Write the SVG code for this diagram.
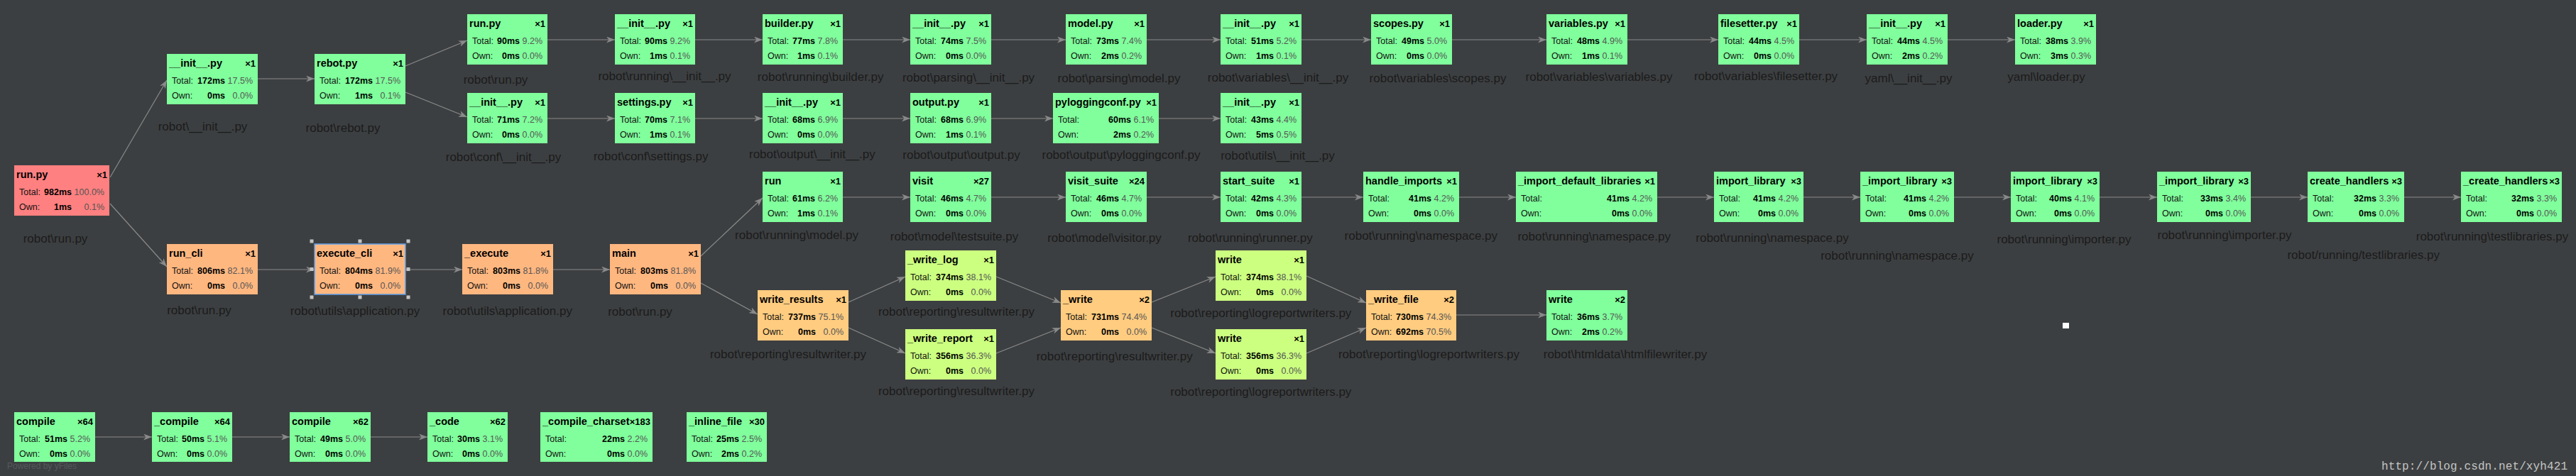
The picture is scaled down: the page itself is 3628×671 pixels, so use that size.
<svg xmlns="http://www.w3.org/2000/svg" width="3628" height="671" viewBox="0 0 3628 671">
<defs>
<style>
text{font-family:"Liberation Sans",Arial,sans-serif}
.g{fill:#80ff9c}.r{fill:#ff8080}.o{fill:#ffb780}.lo{fill:#ffcc80}.y{fill:#ccff80}
.t{font-size:14.5px;font-weight:bold;fill:#000}
.c{font-size:13px;font-weight:bold;fill:#000;text-anchor:end}
.k{font-size:12.5px;fill:#111}
.v{font-size:12.5px;font-weight:bold;fill:#000;text-anchor:end}
.p{font-size:12.5px;fill:#555;text-anchor:end}
.l{font-size:17px;fill:#1b1b1b;text-anchor:middle}
#edges line{stroke:#8a8a8a;stroke-width:1.2;marker-end:url(#ah)}
.h{fill:#c4c4c4}
.sel{fill:#ffb780;stroke:#5f9ee6;stroke-width:1.5}
.wm{font-family:"Liberation Mono","Courier New",monospace;font-size:16px;fill:#c4c4c4}
</style>
<marker id="ah" viewBox="0 0 12 9" refX="12" refY="4.5" markerWidth="12" markerHeight="9" orient="auto" markerUnits="userSpaceOnUse"><path d="M0,0 L12,4.5 L0,9 L3.5,4.5 Z" fill="#8a8a8a"/></marker>
</defs>
<rect width="3628" height="671" fill="#3c3f41"/>

<g id="edges">
<line x1="363" y1="111" x2="443" y2="111"/>
<line x1="771" y1="56" x2="866" y2="56"/>
<line x1="979" y1="56" x2="1074" y2="56"/>
<line x1="1187" y1="56" x2="1282" y2="56"/>
<line x1="1396" y1="56" x2="1501" y2="56"/>
<line x1="1615" y1="56" x2="1719" y2="56"/>
<line x1="1833" y1="56" x2="1931" y2="56"/>
<line x1="2045" y1="56" x2="2178" y2="56"/>
<line x1="2292" y1="56" x2="2420" y2="56"/>
<line x1="2534" y1="56" x2="2629" y2="56"/>
<line x1="2743" y1="56" x2="2838" y2="56"/>
<line x1="771" y1="167" x2="866" y2="167"/>
<line x1="979" y1="167" x2="1074" y2="167"/>
<line x1="1187" y1="167" x2="1282" y2="167"/>
<line x1="1396" y1="167" x2="1483" y2="167"/>
<line x1="1632" y1="167" x2="1719" y2="167"/>
<line x1="1187" y1="278" x2="1282" y2="278"/>
<line x1="1396" y1="278" x2="1501" y2="278"/>
<line x1="1615" y1="278" x2="1719" y2="278"/>
<line x1="1833" y1="278" x2="1920" y2="278"/>
<line x1="2055" y1="278" x2="2135" y2="278"/>
<line x1="2334" y1="278" x2="2414" y2="278"/>
<line x1="2540" y1="278" x2="2620" y2="278"/>
<line x1="2752" y1="278" x2="2832" y2="278"/>
<line x1="2957" y1="278" x2="3038" y2="278"/>
<line x1="3170" y1="278" x2="3250" y2="278"/>
<line x1="3386" y1="278" x2="3466" y2="278"/>
<line x1="363" y1="380" x2="443" y2="380"/>
<line x1="571" y1="380" x2="651" y2="380"/>
<line x1="779" y1="380" x2="859" y2="380"/>
<line x1="2051" y1="444" x2="2178" y2="444"/>
<line x1="134" y1="616" x2="214" y2="616"/>
<line x1="327" y1="616" x2="408" y2="616"/>
<line x1="522" y1="616" x2="602" y2="616"/>
<line x1="155" y1="250" x2="235" y2="113"/>
<line x1="155" y1="287" x2="235" y2="376"/>
<line x1="571" y1="93" x2="658" y2="57"/>
<line x1="571" y1="130" x2="658" y2="165"/>
<line x1="987" y1="361" x2="1074" y2="279"/>
<line x1="987" y1="399" x2="1067" y2="443"/>
<line x1="1195" y1="426" x2="1275" y2="390"/>
<line x1="1195" y1="462" x2="1275" y2="498"/>
<line x1="1403" y1="390" x2="1494" y2="427"/>
<line x1="1403" y1="498" x2="1494" y2="462"/>
<line x1="1622" y1="426" x2="1712" y2="390"/>
<line x1="1622" y1="462" x2="1712" y2="498"/>
<line x1="1840" y1="389" x2="1924" y2="427"/>
<line x1="1840" y1="498" x2="1924" y2="462"/>
</g>

<g id="n_main_run" transform="translate(20,233)"><rect class="r" width="134" height="71"/><text class="t" x="3" y="18">run.py</text><text class="c" x="131" y="18">×1</text><text class="k" x="7" y="42">Total:</text><text class="v" x="81" y="42">982ms</text><text class="p" x="127" y="42">100.0%</text><text class="k" x="7" y="63">Own:</text><text class="v" x="81" y="63">1ms</text><text class="p" x="127" y="63">0.1%</text><text class="l" x="58" y="109">robot\run.py</text></g>

<g id="n_init_robot" transform="translate(235,76)"><rect class="g" width="128" height="71"/><text class="t" x="3" y="18">__init__.py</text><text class="c" x="125" y="18">×1</text><text class="k" x="7" y="42">Total:</text><text class="v" x="82" y="42">172ms</text><text class="p" x="121" y="42">17.5%</text><text class="k" x="7" y="63">Own:</text><text class="v" x="82" y="63">0ms</text><text class="p" x="121" y="63">0.0%</text><text class="l" x="50.5" y="108">robot\__init__.py</text></g>

<g id="n_rebot" transform="translate(443,76)"><rect class="g" width="128" height="71"/><text class="t" x="3" y="18">rebot.py</text><text class="c" x="125" y="18">×1</text><text class="k" x="7" y="42">Total:</text><text class="v" x="82" y="42">172ms</text><text class="p" x="121" y="42">17.5%</text><text class="k" x="7" y="63">Own:</text><text class="v" x="82" y="63">1ms</text><text class="p" x="121" y="63">0.1%</text><text class="l" x="40" y="110">robot\rebot.py</text></g>

<g id="n_run_top" transform="translate(658,20)"><rect class="g" width="113" height="71"/><text class="t" x="3" y="18">run.py</text><text class="c" x="110" y="18">×1</text><text class="k" x="7" y="42">Total:</text><text class="v" x="74" y="42">90ms</text><text class="p" x="106" y="42">9.2%</text><text class="k" x="7" y="63">Own:</text><text class="v" x="74" y="63">0ms</text><text class="p" x="106" y="63">0.0%</text><text class="l" x="40" y="98">robot\run.py</text></g>

<g id="n_init_running" transform="translate(866,20)"><rect class="g" width="113" height="71"/><text class="t" x="3" y="18">__init__.py</text><text class="c" x="110" y="18">×1</text><text class="k" x="7" y="42">Total:</text><text class="v" x="74" y="42">90ms</text><text class="p" x="106" y="42">9.2%</text><text class="k" x="7" y="63">Own:</text><text class="v" x="74" y="63">1ms</text><text class="p" x="106" y="63">0.1%</text><text class="l" x="70" y="93">robot\running\__init__.py</text></g>

<g id="n_builder" transform="translate(1074,20)"><rect class="g" width="113" height="71"/><text class="t" x="3" y="18">builder.py</text><text class="c" x="110" y="18">×1</text><text class="k" x="7" y="42">Total:</text><text class="v" x="74" y="42">77ms</text><text class="p" x="106" y="42">7.8%</text><text class="k" x="7" y="63">Own:</text><text class="v" x="74" y="63">1ms</text><text class="p" x="106" y="63">0.1%</text><text class="l" x="81.7" y="94">robot\running\builder.py</text></g>

<g id="n_init_parsing" transform="translate(1282,20)"><rect class="g" width="114" height="71"/><text class="t" x="3" y="18">__init__.py</text><text class="c" x="111" y="18">×1</text><text class="k" x="7" y="42">Total:</text><text class="v" x="75" y="42">74ms</text><text class="p" x="107" y="42">7.5%</text><text class="k" x="7" y="63">Own:</text><text class="v" x="75" y="63">0ms</text><text class="p" x="107" y="63">0.0%</text><text class="l" x="82" y="95">robot\parsing\__init__.py</text></g>

<g id="n_model" transform="translate(1501,20)"><rect class="g" width="114" height="71"/><text class="t" x="3" y="18">model.py</text><text class="c" x="111" y="18">×1</text><text class="k" x="7" y="42">Total:</text><text class="v" x="75" y="42">73ms</text><text class="p" x="107" y="42">7.4%</text><text class="k" x="7" y="63">Own:</text><text class="v" x="75" y="63">2ms</text><text class="p" x="107" y="63">0.2%</text><text class="l" x="75" y="96">robot\parsing\model.py</text></g>

<g id="n_init_variables" transform="translate(1719,20)"><rect class="g" width="114" height="71"/><text class="t" x="3" y="18">__init__.py</text><text class="c" x="111" y="18">×1</text><text class="k" x="7" y="42">Total:</text><text class="v" x="75" y="42">51ms</text><text class="p" x="107" y="42">5.2%</text><text class="k" x="7" y="63">Own:</text><text class="v" x="75" y="63">1ms</text><text class="p" x="107" y="63">0.1%</text><text class="l" x="81" y="95">robot\variables\__init__.py</text></g>

<g id="n_scopes" transform="translate(1931,20)"><rect class="g" width="114" height="71"/><text class="t" x="3" y="18">scopes.py</text><text class="c" x="111" y="18">×1</text><text class="k" x="7" y="42">Total:</text><text class="v" x="75" y="42">49ms</text><text class="p" x="107" y="42">5.0%</text><text class="k" x="7" y="63">Own:</text><text class="v" x="75" y="63">0ms</text><text class="p" x="107" y="63">0.0%</text><text class="l" x="94" y="96">robot\variables\scopes.py</text></g>

<g id="n_variables" transform="translate(2178,20)"><rect class="g" width="114" height="71"/><text class="t" x="3" y="18">variables.py</text><text class="c" x="111" y="18">×1</text><text class="k" x="7" y="42">Total:</text><text class="v" x="75" y="42">48ms</text><text class="p" x="107" y="42">4.9%</text><text class="k" x="7" y="63">Own:</text><text class="v" x="75" y="63">1ms</text><text class="p" x="107" y="63">0.1%</text><text class="l" x="74" y="94">robot\variables\variables.py</text></g>

<g id="n_filesetter" transform="translate(2420,20)"><rect class="g" width="114" height="71"/><text class="t" x="3" y="18">filesetter.py</text><text class="c" x="111" y="18">×1</text><text class="k" x="7" y="42">Total:</text><text class="v" x="75" y="42">44ms</text><text class="p" x="107" y="42">4.5%</text><text class="k" x="7" y="63">Own:</text><text class="v" x="75" y="63">0ms</text><text class="p" x="107" y="63">0.0%</text><text class="l" x="67" y="93">robot\variables\filesetter.py</text></g>

<g id="n_init_yaml" transform="translate(2629,20)"><rect class="g" width="114" height="71"/><text class="t" x="3" y="18">__init__.py</text><text class="c" x="111" y="18">×1</text><text class="k" x="7" y="42">Total:</text><text class="v" x="75" y="42">44ms</text><text class="p" x="107" y="42">4.5%</text><text class="k" x="7" y="63">Own:</text><text class="v" x="75" y="63">2ms</text><text class="p" x="107" y="63">0.2%</text><text class="l" x="59" y="96">yaml\__init__.py</text></g>

<g id="n_loader" transform="translate(2838,20)"><rect class="g" width="114" height="71"/><text class="t" x="3" y="18">loader.py</text><text class="c" x="111" y="18">×1</text><text class="k" x="7" y="42">Total:</text><text class="v" x="75" y="42">38ms</text><text class="p" x="107" y="42">3.9%</text><text class="k" x="7" y="63">Own:</text><text class="v" x="75" y="63">3ms</text><text class="p" x="107" y="63">0.3%</text><text class="l" x="44" y="94">yaml\loader.py</text></g>

<g id="n_init_conf" transform="translate(658,131)"><rect class="g" width="113" height="71"/><text class="t" x="3" y="18">__init__.py</text><text class="c" x="110" y="18">×1</text><text class="k" x="7" y="42">Total:</text><text class="v" x="74" y="42">71ms</text><text class="p" x="106" y="42">7.2%</text><text class="k" x="7" y="63">Own:</text><text class="v" x="74" y="63">0ms</text><text class="p" x="106" y="63">0.0%</text><text class="l" x="51" y="96">robot\conf\__init__.py</text></g>

<g id="n_settings" transform="translate(866,131)"><rect class="g" width="113" height="71"/><text class="t" x="3" y="18">settings.py</text><text class="c" x="110" y="18">×1</text><text class="k" x="7" y="42">Total:</text><text class="v" x="74" y="42">70ms</text><text class="p" x="106" y="42">7.1%</text><text class="k" x="7" y="63">Own:</text><text class="v" x="74" y="63">1ms</text><text class="p" x="106" y="63">0.1%</text><text class="l" x="50.7" y="95">robot\conf\settings.py</text></g>

<g id="n_init_output" transform="translate(1074,131)"><rect class="g" width="113" height="71"/><text class="t" x="3" y="18">__init__.py</text><text class="c" x="110" y="18">×1</text><text class="k" x="7" y="42">Total:</text><text class="v" x="74" y="42">68ms</text><text class="p" x="106" y="42">6.9%</text><text class="k" x="7" y="63">Own:</text><text class="v" x="74" y="63">0ms</text><text class="p" x="106" y="63">0.0%</text><text class="l" x="69.8" y="92">robot\output\__init__.py</text></g>

<g id="n_output" transform="translate(1282,131)"><rect class="g" width="114" height="71"/><text class="t" x="3" y="18">output.py</text><text class="c" x="111" y="18">×1</text><text class="k" x="7" y="42">Total:</text><text class="v" x="75" y="42">68ms</text><text class="p" x="107" y="42">6.9%</text><text class="k" x="7" y="63">Own:</text><text class="v" x="75" y="63">1ms</text><text class="p" x="107" y="63">0.1%</text><text class="l" x="72" y="93">robot\output\output.py</text></g>

<g id="n_pyloggingconf" transform="translate(1483,131)"><rect class="g" width="149" height="71"/><text class="t" x="3" y="18">pyloggingconf.py</text><text class="c" x="146" y="18">×1</text><text class="k" x="7" y="42">Total:</text><text class="v" x="110" y="42">60ms</text><text class="p" x="142" y="42">6.1%</text><text class="k" x="7" y="63">Own:</text><text class="v" x="110" y="63">2ms</text><text class="p" x="142" y="63">0.2%</text><text class="l" x="96" y="93">robot\output\pyloggingconf.py</text></g>

<g id="n_init_utils" transform="translate(1719,131)"><rect class="g" width="114" height="71"/><text class="t" x="3" y="18">__init__.py</text><text class="c" x="111" y="18">×1</text><text class="k" x="7" y="42">Total:</text><text class="v" x="75" y="42">43ms</text><text class="p" x="107" y="42">4.4%</text><text class="k" x="7" y="63">Own:</text><text class="v" x="75" y="63">5ms</text><text class="p" x="107" y="63">0.5%</text><text class="l" x="80.5" y="94">robot\utils\__init__.py</text></g>

<g id="n_run_cli" transform="translate(235,344)"><rect class="o" width="128" height="71"/><text class="t" x="3" y="18">run_cli</text><text class="c" x="125" y="18">×1</text><text class="k" x="7" y="42">Total:</text><text class="v" x="82" y="42">806ms</text><text class="p" x="121" y="42">82.1%</text><text class="k" x="7" y="63">Own:</text><text class="v" x="82" y="63">0ms</text><text class="p" x="121" y="63">0.0%</text><text class="l" x="45.5" y="99">robot\run.py</text></g>

<g id="n_execute_cli" transform="translate(443,344)"><rect class="sel" width="128" height="71"/><text class="t" x="3" y="18">execute_cli</text><text class="c" x="125" y="18">×1</text><text class="k" x="7" y="42">Total:</text><text class="v" x="82" y="42">804ms</text><text class="p" x="121" y="42">81.9%</text><text class="k" x="7" y="63">Own:</text><text class="v" x="82" y="63">0ms</text><text class="p" x="121" y="63">0.0%</text><rect class="h" x="-6.5" y="-6.5" width="5" height="5"/><rect class="h" x="61.5" y="-6.5" width="5" height="5"/><rect class="h" x="129.5" y="-6.5" width="5" height="5"/><rect class="h" x="-6.5" y="33" width="5" height="5"/><rect class="h" x="129.5" y="33" width="5" height="5"/><rect class="h" x="-6.5" y="72.5" width="5" height="5"/><rect class="h" x="61.5" y="72.5" width="5" height="5"/><rect class="h" x="129.5" y="72.5" width="5" height="5"/><text class="l" x="57" y="100">robot\utils\application.py</text></g>

<g id="n_execute" transform="translate(651,344)"><rect class="o" width="128" height="71"/><text class="t" x="3" y="18">_execute</text><text class="c" x="125" y="18">×1</text><text class="k" x="7" y="42">Total:</text><text class="v" x="82" y="42">803ms</text><text class="p" x="121" y="42">81.8%</text><text class="k" x="7" y="63">Own:</text><text class="v" x="82" y="63">0ms</text><text class="p" x="121" y="63">0.0%</text><text class="l" x="63.7" y="100">robot\utils\application.py</text></g>

<g id="n_main" transform="translate(859,344)"><rect class="o" width="128" height="71"/><text class="t" x="3" y="18">main</text><text class="c" x="125" y="18">×1</text><text class="k" x="7" y="42">Total:</text><text class="v" x="82" y="42">803ms</text><text class="p" x="121" y="42">81.8%</text><text class="k" x="7" y="63">Own:</text><text class="v" x="82" y="63">0ms</text><text class="p" x="121" y="63">0.0%</text><text class="l" x="42.5" y="101">robot\run.py</text></g>

<g id="n_run_model" transform="translate(1074,242)"><rect class="g" width="113" height="71"/><text class="t" x="3" y="18">run</text><text class="c" x="110" y="18">×1</text><text class="k" x="7" y="42">Total:</text><text class="v" x="74" y="42">61ms</text><text class="p" x="106" y="42">6.2%</text><text class="k" x="7" y="63">Own:</text><text class="v" x="74" y="63">1ms</text><text class="p" x="106" y="63">0.1%</text><text class="l" x="48" y="95">robot\running\model.py</text></g>

<g id="n_visit" transform="translate(1282,242)"><rect class="g" width="114" height="71"/><text class="t" x="3" y="18">visit</text><text class="c" x="111" y="18">×27</text><text class="k" x="7" y="42">Total:</text><text class="v" x="75" y="42">46ms</text><text class="p" x="107" y="42">4.7%</text><text class="k" x="7" y="63">Own:</text><text class="v" x="75" y="63">0ms</text><text class="p" x="107" y="63">0.0%</text><text class="l" x="62" y="97">robot\model\testsuite.py</text></g>

<g id="n_visit_suite" transform="translate(1501,242)"><rect class="g" width="114" height="71"/><text class="t" x="3" y="18">visit_suite</text><text class="c" x="111" y="18">×24</text><text class="k" x="7" y="42">Total:</text><text class="v" x="75" y="42">46ms</text><text class="p" x="107" y="42">4.7%</text><text class="k" x="7" y="63">Own:</text><text class="v" x="75" y="63">0ms</text><text class="p" x="107" y="63">0.0%</text><text class="l" x="54.5" y="99">robot\model\visitor.py</text></g>

<g id="n_start_suite" transform="translate(1719,242)"><rect class="g" width="114" height="71"/><text class="t" x="3" y="18">start_suite</text><text class="c" x="111" y="18">×1</text><text class="k" x="7" y="42">Total:</text><text class="v" x="75" y="42">42ms</text><text class="p" x="107" y="42">4.3%</text><text class="k" x="7" y="63">Own:</text><text class="v" x="75" y="63">0ms</text><text class="p" x="107" y="63">0.0%</text><text class="l" x="41.8" y="99">robot\running\runner.py</text></g>

<g id="n_handle_imports" transform="translate(1920,242)"><rect class="g" width="135" height="71"/><text class="t" x="3" y="18">handle_imports</text><text class="c" x="132" y="18">×1</text><text class="k" x="7" y="42">Total:</text><text class="v" x="96" y="42">41ms</text><text class="p" x="128" y="42">4.2%</text><text class="k" x="7" y="63">Own:</text><text class="v" x="96" y="63">0ms</text><text class="p" x="128" y="63">0.0%</text><text class="l" x="81.3" y="96">robot\running\namespace.py</text></g>

<g id="n_import_default_libraries" transform="translate(2135,242)"><rect class="g" width="199" height="71"/><text class="t" x="3" y="18">_import_default_libraries</text><text class="c" x="196" y="18">×1</text><text class="k" x="7" y="42">Total:</text><text class="v" x="160" y="42">41ms</text><text class="p" x="192" y="42">4.2%</text><text class="k" x="7" y="63">Own:</text><text class="v" x="160" y="63">0ms</text><text class="p" x="192" y="63">0.0%</text><text class="l" x="110.2" y="97">robot\running\namespace.py</text></g>

<g id="n_import_library_1" transform="translate(2414,242)"><rect class="g" width="126" height="71"/><text class="t" x="3" y="18">import_library</text><text class="c" x="123" y="18">×3</text><text class="k" x="7" y="42">Total:</text><text class="v" x="87" y="42">41ms</text><text class="p" x="119" y="42">4.2%</text><text class="k" x="7" y="63">Own:</text><text class="v" x="87" y="63">0ms</text><text class="p" x="119" y="63">0.0%</text><text class="l" x="82" y="99">robot\running\namespace.py</text></g>

<g id="n__import_library_1" transform="translate(2620,242)"><rect class="g" width="132" height="71"/><text class="t" x="3" y="18">_import_library</text><text class="c" x="129" y="18">×3</text><text class="k" x="7" y="42">Total:</text><text class="v" x="93" y="42">41ms</text><text class="p" x="125" y="42">4.2%</text><text class="k" x="7" y="63">Own:</text><text class="v" x="93" y="63">0ms</text><text class="p" x="125" y="63">0.0%</text><text class="l" x="51.9" y="124">robot\running\namespace.py</text></g>

<g id="n_import_library_2" transform="translate(2832,242)"><rect class="g" width="125" height="71"/><text class="t" x="3" y="18">import_library</text><text class="c" x="122" y="18">×3</text><text class="k" x="7" y="42">Total:</text><text class="v" x="86" y="42">40ms</text><text class="p" x="118" y="42">4.1%</text><text class="k" x="7" y="63">Own:</text><text class="v" x="86" y="63">0ms</text><text class="p" x="118" y="63">0.0%</text><text class="l" x="75" y="101">robot\running\importer.py</text></g>

<g id="n__import_library_2" transform="translate(3038,242)"><rect class="g" width="132" height="71"/><text class="t" x="3" y="18">_import_library</text><text class="c" x="129" y="18">×3</text><text class="k" x="7" y="42">Total:</text><text class="v" x="93" y="42">33ms</text><text class="p" x="125" y="42">3.4%</text><text class="k" x="7" y="63">Own:</text><text class="v" x="93" y="63">0ms</text><text class="p" x="125" y="63">0.0%</text><text class="l" x="95" y="95">robot\running\importer.py</text></g>

<g id="n_create_handlers" transform="translate(3250,242)"><rect class="g" width="136" height="71"/><text class="t" x="3" y="18">create_handlers</text><text class="c" x="133" y="18">×3</text><text class="k" x="7" y="42">Total:</text><text class="v" x="97" y="42">32ms</text><text class="p" x="129" y="42">3.3%</text><text class="k" x="7" y="63">Own:</text><text class="v" x="97" y="63">0ms</text><text class="p" x="129" y="63">0.0%</text><text class="l" x="78.7" y="123">robot/running/testlibraries.py</text></g>

<g id="n__create_handlers" transform="translate(3466,242)"><rect class="g" width="142" height="71"/><text class="t" x="3" y="18">_create_handlers</text><text class="c" x="139" y="18">×3</text><text class="k" x="7" y="42">Total:</text><text class="v" x="103" y="42">32ms</text><text class="p" x="135" y="42">3.3%</text><text class="k" x="7" y="63">Own:</text><text class="v" x="103" y="63">0ms</text><text class="p" x="135" y="63">0.0%</text><text class="l" x="44" y="97">robot\running\testlibraries.py</text></g>

<g id="n_write_results" transform="translate(1067,409)"><rect class="lo" width="128" height="71"/><text class="t" x="3" y="18">write_results</text><text class="c" x="125" y="18">×1</text><text class="k" x="7" y="42">Total:</text><text class="v" x="82" y="42">737ms</text><text class="p" x="121" y="42">75.1%</text><text class="k" x="7" y="63">Own:</text><text class="v" x="82" y="63">0ms</text><text class="p" x="121" y="63">0.0%</text><text class="l" x="43" y="96">robot\reporting\resultwriter.py</text></g>

<g id="n_write_log" transform="translate(1275,353)"><rect class="y" width="128" height="71"/><text class="t" x="3" y="18">_write_log</text><text class="c" x="125" y="18">×1</text><text class="k" x="7" y="42">Total:</text><text class="v" x="82" y="42">374ms</text><text class="p" x="121" y="42">38.1%</text><text class="k" x="7" y="63">Own:</text><text class="v" x="82" y="63">0ms</text><text class="p" x="121" y="63">0.0%</text><text class="l" x="72" y="92">robot\reporting\resultwriter.py</text></g>

<g id="n_write_report" transform="translate(1275,464)"><rect class="y" width="128" height="71"/><text class="t" x="3" y="18">_write_report</text><text class="c" x="125" y="18">×1</text><text class="k" x="7" y="42">Total:</text><text class="v" x="82" y="42">356ms</text><text class="p" x="121" y="42">36.3%</text><text class="k" x="7" y="63">Own:</text><text class="v" x="82" y="63">0ms</text><text class="p" x="121" y="63">0.0%</text><text class="l" x="72" y="93">robot\reporting\resultwriter.py</text></g>

<g id="n__write" transform="translate(1494,409)"><rect class="lo" width="128" height="71"/><text class="t" x="3" y="18">_write</text><text class="c" x="125" y="18">×2</text><text class="k" x="7" y="42">Total:</text><text class="v" x="82" y="42">731ms</text><text class="p" x="121" y="42">74.4%</text><text class="k" x="7" y="63">Own:</text><text class="v" x="82" y="63">0ms</text><text class="p" x="121" y="63">0.0%</text><text class="l" x="75.7" y="99">robot\reporting\resultwriter.py</text></g>

<g id="n_write_top" transform="translate(1712,353)"><rect class="y" width="128" height="71"/><text class="t" x="3" y="18">write</text><text class="c" x="125" y="18">×1</text><text class="k" x="7" y="42">Total:</text><text class="v" x="82" y="42">374ms</text><text class="p" x="121" y="42">38.1%</text><text class="k" x="7" y="63">Own:</text><text class="v" x="82" y="63">0ms</text><text class="p" x="121" y="63">0.0%</text><text class="l" x="63.8" y="94">robot\reporting\logreportwriters.py</text></g>

<g id="n_write_bottom" transform="translate(1712,464)"><rect class="y" width="128" height="71"/><text class="t" x="3" y="18">write</text><text class="c" x="125" y="18">×1</text><text class="k" x="7" y="42">Total:</text><text class="v" x="82" y="42">356ms</text><text class="p" x="121" y="42">36.3%</text><text class="k" x="7" y="63">Own:</text><text class="v" x="82" y="63">0ms</text><text class="p" x="121" y="63">0.0%</text><text class="l" x="63.8" y="94">robot\reporting\logreportwriters.py</text></g>

<g id="n__write_file" transform="translate(1924,409)"><rect class="lo" width="127" height="71"/><text class="t" x="3" y="18">_write_file</text><text class="c" x="124" y="18">×2</text><text class="k" x="7" y="42">Total:</text><text class="v" x="81" y="42">730ms</text><text class="p" x="120" y="42">74.3%</text><text class="k" x="7" y="63">Own:</text><text class="v" x="81" y="63">692ms</text><text class="p" x="120" y="63">70.5%</text><text class="l" x="88.5" y="96">robot\reporting\logreportwriters.py</text></g>

<g id="n_write_html" transform="translate(2178,409)"><rect class="g" width="114" height="71"/><text class="t" x="3" y="18">write</text><text class="c" x="111" y="18">×2</text><text class="k" x="7" y="42">Total:</text><text class="v" x="75" y="42">36ms</text><text class="p" x="107" y="42">3.7%</text><text class="k" x="7" y="63">Own:</text><text class="v" x="75" y="63">2ms</text><text class="p" x="107" y="63">0.2%</text><text class="l" x="111" y="96">robot\htmldata\htmlfilewriter.py</text></g>

<g id="n_compile_1" transform="translate(20,581)"><rect class="g" width="114" height="70"/><text class="t" x="3" y="18">compile</text><text class="c" x="111" y="18">×64</text><text class="k" x="7" y="42">Total:</text><text class="v" x="75" y="42">51ms</text><text class="p" x="107" y="42">5.2%</text><text class="k" x="7" y="63">Own:</text><text class="v" x="75" y="63">0ms</text><text class="p" x="107" y="63">0.0%</text></g>

<g id="n__compile" transform="translate(214,581)"><rect class="g" width="113" height="70"/><text class="t" x="3" y="18">_compile</text><text class="c" x="110" y="18">×64</text><text class="k" x="7" y="42">Total:</text><text class="v" x="74" y="42">50ms</text><text class="p" x="106" y="42">5.1%</text><text class="k" x="7" y="63">Own:</text><text class="v" x="74" y="63">0ms</text><text class="p" x="106" y="63">0.0%</text></g>

<g id="n_compile_2" transform="translate(408,581)"><rect class="g" width="114" height="70"/><text class="t" x="3" y="18">compile</text><text class="c" x="111" y="18">×62</text><text class="k" x="7" y="42">Total:</text><text class="v" x="75" y="42">49ms</text><text class="p" x="107" y="42">5.0%</text><text class="k" x="7" y="63">Own:</text><text class="v" x="75" y="63">0ms</text><text class="p" x="107" y="63">0.0%</text></g>

<g id="n__code" transform="translate(602,581)"><rect class="g" width="113" height="70"/><text class="t" x="3" y="18">_code</text><text class="c" x="110" y="18">×62</text><text class="k" x="7" y="42">Total:</text><text class="v" x="74" y="42">30ms</text><text class="p" x="106" y="42">3.1%</text><text class="k" x="7" y="63">Own:</text><text class="v" x="74" y="63">0ms</text><text class="p" x="106" y="63">0.0%</text></g>

<g id="n__compile_charset" transform="translate(761,581)"><rect class="g" width="158" height="70"/><text class="t" x="3" y="18">_compile_charset</text><text class="c" x="155" y="18">×183</text><text class="k" x="7" y="42">Total:</text><text class="v" x="119" y="42">22ms</text><text class="p" x="151" y="42">2.2%</text><text class="k" x="7" y="63">Own:</text><text class="v" x="119" y="63">0ms</text><text class="p" x="151" y="63">0.0%</text></g>

<g id="n__inline_file" transform="translate(967,581)"><rect class="g" width="113" height="70"/><text class="t" x="3" y="18">_inline_file</text><text class="c" x="110" y="18">×30</text><text class="k" x="7" y="42">Total:</text><text class="v" x="74" y="42">25ms</text><text class="p" x="106" y="42">2.5%</text><text class="k" x="7" y="63">Own:</text><text class="v" x="74" y="63">2ms</text><text class="p" x="106" y="63">0.2%</text></g>

<rect x="2905" y="455" width="9" height="8" fill="#ffffff"/>
<text x="10" y="661" font-size="12" fill="#55595c">Powered by yFiles</text>
<text class="wm" x="3354" y="662" textLength="262" lengthAdjust="spacing">http://blog.csdn.net/xyh421</text>
</svg>
